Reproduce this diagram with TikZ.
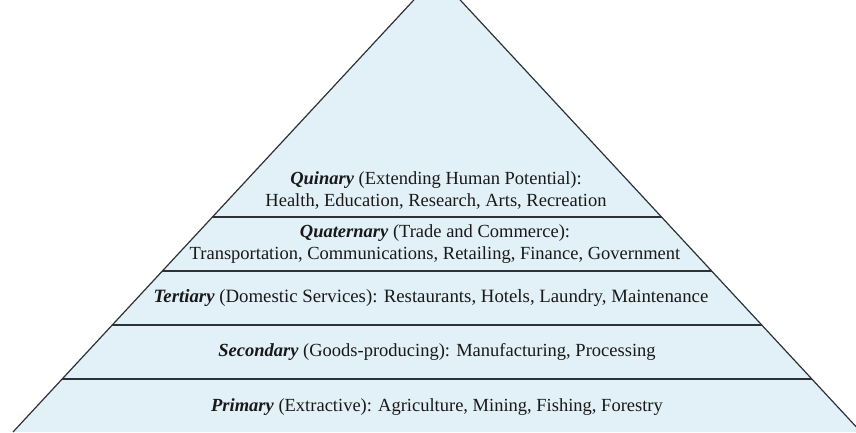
\documentclass[tikz,border=0pt]{standalone}
\usepackage{fontspec}
\setmainfont{Liberation Serif}
\definecolor{bandfill}{RGB}{226,240,247}
\definecolor{edgegray}{RGB}{45,50,55}
\begin{document}
\begin{tikzpicture}[x=1pt, y=1pt, every node/.style={font=\fontsize{18.5}{22}\selectfont, align=center, text=black!90}]
        \clip (0,0) rectangle (856,432);
        \fill[white] (0,0) rectangle (856,432);
        \coordinate (top) at (437,457);
        \coordinate (bl) at (13,0);
        \coordinate (br) at (861,0);
        \coordinate (l1) at (212.4,215);
        \coordinate (r1) at (661.6,215);
        \coordinate (l2) at (162.3,161);
        \coordinate (r2) at (711.7,161);
        \coordinate (l3) at (112.2,107);
        \coordinate (r3) at (761.8,107);
        \coordinate (l4) at (62.1,53);
        \coordinate (r4) at (811.9,53);
        \fill[bandfill] (top)--(bl)--(br)--cycle;
        \draw[edgegray, line width=1.2pt] (bl)--(top)--(br);
        \draw[edgegray, line width=1.4pt] (l1)--(r1);
        \draw[edgegray, line width=1.4pt] (l2)--(r2);
        \draw[edgegray, line width=1.4pt] (l3)--(r3);
        \draw[edgegray, line width=1.4pt] (l4)--(r4);
        \node (quinary) at (436,241) {\textbf{\textit{Quinary}} (Extending Human Potential):\\Health, Education, Research, Arts, Recreation};
        \node (quaternary) at (435,188) {\textbf{\textit{Quaternary}} (Trade and Commerce):\\Transportation, Communications, Retailing, Finance, Government};
        \node[font=\fontsize{18.8}{22}\selectfont] (tertiary) at (431,134) {\textbf{\textit{Tertiary}} (Domestic Services): Restaurants, Hotels, Laundry, Maintenance};
        \node (secondary) at (437,80) {\textbf{\textit{Secondary}} (Goods-producing): Manufacturing, Processing};
        \node (primary) at (437,25) {\textbf{\textit{Primary}} (Extractive): Agriculture, Mining, Fishing, Forestry};
    \end{tikzpicture}
\end{document}
